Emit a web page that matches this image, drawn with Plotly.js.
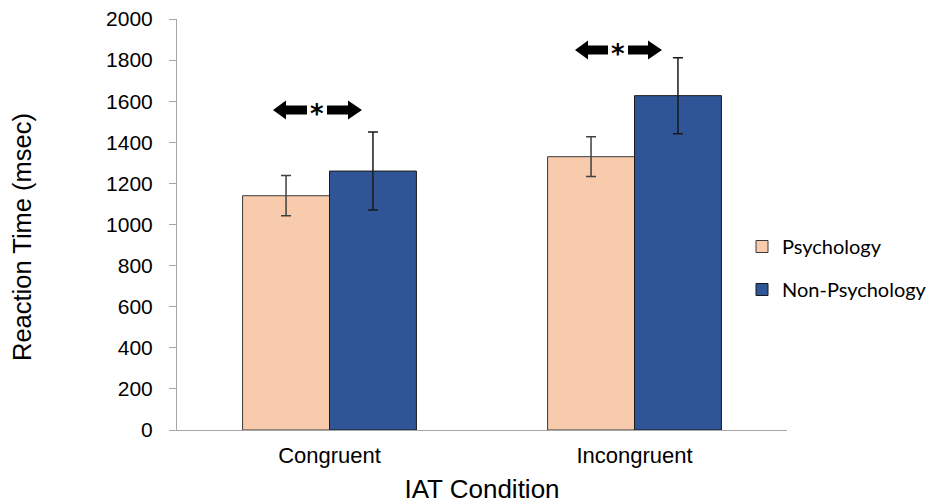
<!DOCTYPE html>
<html>
<head>
<meta charset="utf-8">
<script src="https://cdn.plot.ly/plotly-3.0.1.min.js"></script>
<style>html,body{margin:0;padding:0;background:#fff;}#chart{width:929px;height:504px;}</style>
</head>
<body>
<div id="chart"></div>
<script>
const categories = ["Congruent", "Incongruent"];
const psychology = [1140, 1330];
const psychologyErr = [98, 97];
const nonPsychology = [1260, 1627];
const nonPsychologyErr = [190, 185];
const yTicks = [0, 200, 400, 600, 800, 1000, 1200, 1400, 1600, 1800, 2000];

const L = 177, R = 787, T = 19, B = 430;
const px = x => (x - L) / (R - L);
const py = y => (B - y) / (B - T);

function leftArrow(tip, headEnd, shaftEnd, cy) {
  return `M ${px(tip)} ${py(cy)} L ${px(headEnd)} ${py(cy - 9.5)} L ${px(headEnd)} ${py(cy - 4.5)} L ${px(shaftEnd)} ${py(cy - 4.5)} L ${px(shaftEnd)} ${py(cy + 4.5)} L ${px(headEnd)} ${py(cy + 4.5)} L ${px(headEnd)} ${py(cy + 9.5)} Z`;
}
function rightArrow(shaftStart, headStart, tip, cy) {
  return `M ${px(tip)} ${py(cy)} L ${px(headStart)} ${py(cy - 9.5)} L ${px(headStart)} ${py(cy - 4.5)} L ${px(shaftStart)} ${py(cy - 4.5)} L ${px(shaftStart)} ${py(cy + 4.5)} L ${px(headStart)} ${py(cy + 4.5)} L ${px(headStart)} ${py(cy + 9.5)} Z`;
}
const arrowStyle = {type: 'path', xref: 'paper', yref: 'paper', fillcolor: '#000', line: {width: 0}};
const shapes = [
  Object.assign({path: leftArrow(273, 286, 307, 110)}, arrowStyle),
  Object.assign({path: rightArrow(327, 348, 362, 110)}, arrowStyle),
  Object.assign({path: leftArrow(575, 588, 608, 50)}, arrowStyle),
  Object.assign({path: rightArrow(628, 648, 662, 50)}, arrowStyle)
];
const starFont = {family: 'DejaVu Sans, sans-serif', size: 26, color: '#000'};
const annotations = [
  {x: px(317), y: py(131), xref: 'paper', yref: 'paper', text: '<b>*</b>', showarrow: false, xanchor: 'center', yanchor: 'bottom', font: starFont},
  {x: px(618), y: py(71), xref: 'paper', yref: 'paper', text: '<b>*</b>', showarrow: false, xanchor: 'center', yanchor: 'bottom', font: starFont},
  {x: px(22), y: py(237), xref: 'paper', yref: 'paper', text: 'Reaction Time (msec)', textangle: -90, showarrow: false, xanchor: 'center', yanchor: 'middle',
   font: {family: 'Liberation Sans, Arial', size: 25.5, color: '#000'}}
];

const traces = [
  {type: 'bar', name: 'Psychology', x: categories, y: psychology, legendgroup: 'a',
   marker: {color: '#F8CBAD', line: {color: '#3a3a3a', width: 1}},
   error_y: {type: 'data', array: psychologyErr, visible: true, color: '#404040', thickness: 1.5, width: 5}},
  {type: 'bar', name: 'Non-Psychology', x: categories, y: nonPsychology, legendgroup: 'b',
   marker: {color: '#2F5597', line: {color: '#1a1a1a', width: 1}},
   error_y: {type: 'data', array: nonPsychologyErr, visible: true, color: '#1a1a1a', thickness: 1.5, width: 5}}
];

const layout = {
  width: 929, height: 504,
  margin: {l: L, r: 929 - R, t: T, b: 504 - B, autoexpand: false},
  paper_bgcolor: '#fff', plot_bgcolor: '#fff',
  barmode: 'group', bargap: 0.43, bargroupgap: 0,
  showlegend: true,
  legend: {x: px(742), y: py(268), xanchor: 'left', yanchor: 'middle', traceorder: 'grouped', tracegroupgap: 14,
           font: {family: 'Lato, Carlito, sans-serif', size: 20, color: '#000'}, itemwidth: 30, bgcolor: 'rgba(0,0,0,0)'},
  font: {family: 'Liberation Sans, Arial', color: '#000'},
  xaxis: {type: 'category', showline: true, linecolor: '#a6a6a6', linewidth: 1, ticks: '', showgrid: false, zeroline: false,
          tickfont: {family: 'Liberation Sans, Arial', size: 22, color: '#000'}, ticklabelstandoff: 6,
          title: {text: 'IAT Condition', font: {family: 'Liberation Sans, Arial', size: 26, color: '#000'}, standoff: 14}},
  yaxis: {range: [0, 2000], tickvals: yTicks, ticktext: yTicks.map(String), showline: true, linecolor: '#a6a6a6', linewidth: 1,
          ticks: 'outside', ticklen: 7, tickcolor: '#a6a6a6', showgrid: false, zeroline: false,
          tickfont: {family: 'Liberation Sans, Arial', size: 21, color: '#000'}, ticklabelstandoff: 12},
  shapes: shapes,
  annotations: annotations
};

Plotly.newPlot('chart', traces, layout, {displayModeBar: false, staticPlot: true});
</script>
</body>
</html>
